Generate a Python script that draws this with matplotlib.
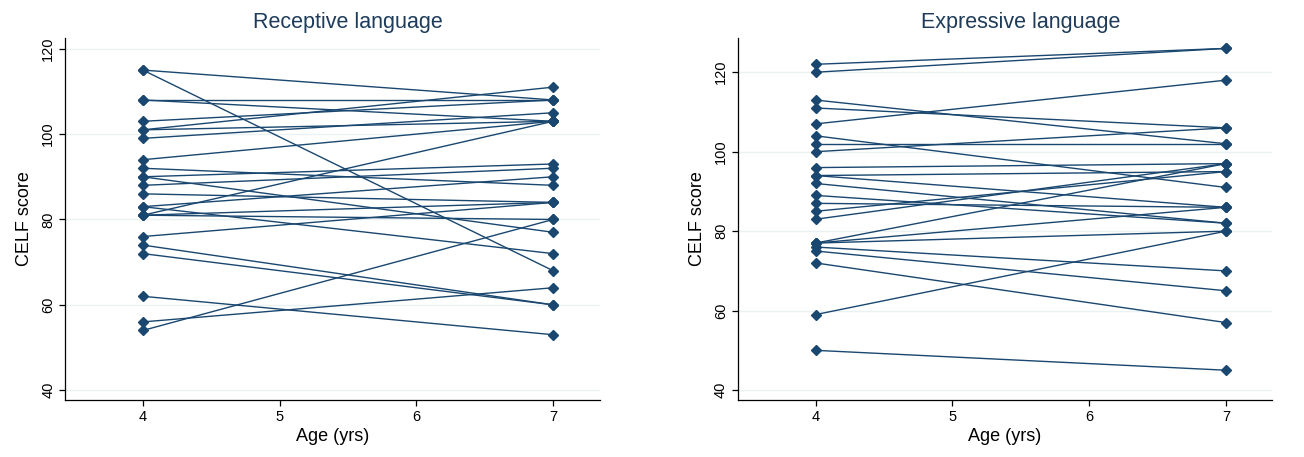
import matplotlib
matplotlib.use("Agg")
import matplotlib.pyplot as plt

# ---- data ----
ages = [4, 7]

receptive_age4 = [115, 115, 108, 108, 103, 101, 101, 99, 94, 92, 90, 90, 88, 86,
                  83, 83, 81, 81, 81, 76, 74, 72, 62, 56, 54]
receptive_age7 = [108, 68, 108, 103, 108, 111, 103, 105, 103, 88, 93, 77, 92, 84,
                  90, 72, 103, 80, 84, 84, 60, 60, 53, 64, 80]

expressive_age4 = [122, 120, 113, 111, 107, 104, 102, 100, 96, 94, 94, 92, 89, 87,
                   85, 83, 77, 77, 77, 76, 75, 72, 59, 50]
expressive_age7 = [126, 126, 102, 106, 118, 91, 102, 106, 97, 95, 86, 82, 82, 86,
                   95, 97, 97, 86, 80, 70, 65, 57, 80, 45]

titles = ["Receptive language", "Expressive language"]
x_ticks = [4, 5, 6, 7]
y_ticks = [40, 60, 80, 100, 120]

# ---- style ----
LINE = "#1a476f"
GRID = "#eaf2f3"
FONT = "Liberation Sans"
plt.rcParams["font.family"] = [FONT, "DejaVu Sans"]

fig = plt.figure(figsize=(13.04, 4.57), dpi=100)
ax1 = fig.add_axes([0.0498, 0.1247, 0.410, 0.792])
ax2 = fig.add_axes([0.5657, 0.1247, 0.410, 0.792])

panels = [
    (ax1, receptive_age4, receptive_age7, (37.7, 122.5)),
    (ax2, expressive_age4, expressive_age7, (37.5, 128.6)),
]

for (ax, a4, a7, ylim), title in zip(panels, titles):
    for s4, s7 in zip(a4, a7):
        ax.plot(ages, [s4, s7], color=LINE, lw=1.0, marker="D",
                markersize=4.8, markerfacecolor=LINE, markeredgecolor=LINE,
                solid_joinstyle="miter", zorder=3)
    ax.set_xlim(3.43, 7.34)
    ax.set_ylim(*ylim)
    ax.set_xticks(x_ticks)
    ax.set_yticks(y_ticks)
    ax.set_yticklabels([str(v) for v in y_ticks], rotation=90, va="center")
    ax.yaxis.grid(True, color=GRID, lw=1.0, zorder=0)
    ax.set_axisbelow(True)
    for side in ("top", "right"):
        ax.spines[side].set_visible(False)
    for side in ("left", "bottom"):
        ax.spines[side].set_color("black")
        ax.spines[side].set_linewidth(0.9)
    ax.tick_params(axis="both", direction="out", length=4, width=0.9,
                   colors="black", labelsize=10.5, pad=3)
    ax.set_title(title, fontsize=15.5, color="#1e3c5a", pad=7, x=0.53)
    ax.set_xlabel("Age (yrs)", fontsize=13, labelpad=3)
    ax.set_ylabel("CELF score", fontsize=13, labelpad=6)

fig.savefig("out.png", dpi=100, facecolor="white")
